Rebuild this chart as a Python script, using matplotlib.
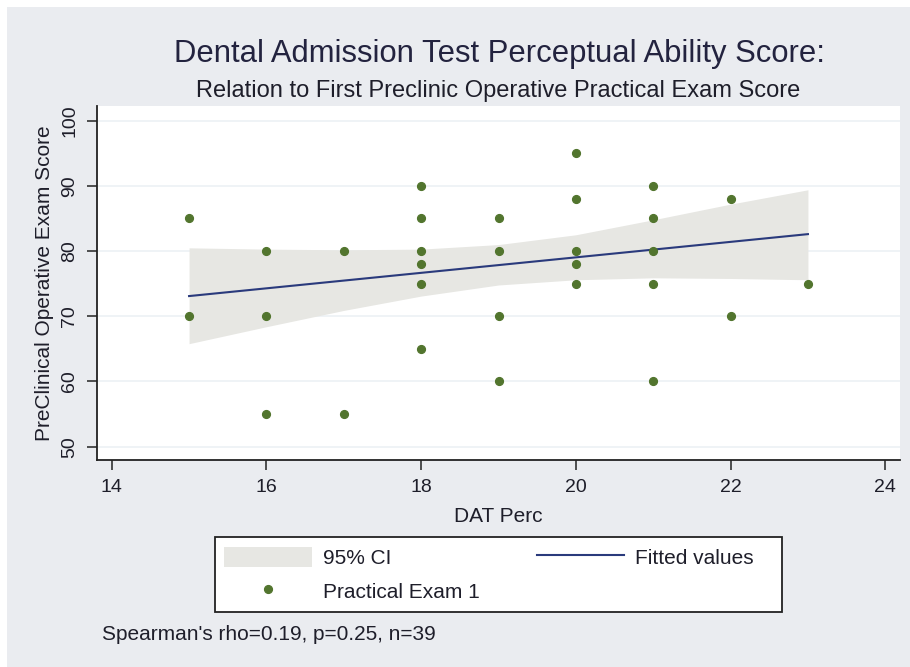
import matplotlib
matplotlib.use("Agg")
import matplotlib.pyplot as plt
from matplotlib.patches import Rectangle, Patch
from matplotlib.lines import Line2D

plt.rcParams['font.family'] = ['Liberation Sans', 'DejaVu Sans']

# ---- data ----
dat_perc = [15, 15, 16, 16, 16, 17, 17, 18, 18, 18, 18, 18, 18, 19, 19, 19, 19,
            20, 20, 20, 20, 20, 21, 21, 21, 21, 21, 22, 22, 23]
exam_score = [85, 70, 80, 70, 55, 80, 55, 90, 85, 80, 78, 75, 65, 85, 80, 70, 60,
              95, 88, 80, 78, 75, 90, 85, 80, 75, 60, 88, 70, 75]

fit_x = [15, 23]
fit_y = [73.1, 82.6]

ci_x = [15, 16, 17, 18, 19, 20, 21, 22, 23]
ci_low = [65.8, 68.4, 70.9, 73.1, 74.8, 75.6, 75.9, 75.8, 75.6]
ci_high = [80.5, 80.3, 80.2, 80.3, 81.0, 82.5, 84.8, 87.2, 89.4]

x_ticks = [14, 16, 18, 20, 22, 24]
y_ticks = [50, 60, 70, 80, 90, 100]

title = "Dental Admission Test Perceptual Ability Score:"
subtitle = "Relation to First Preclinic Operative Practical Exam Score"
xlabel = "DAT Perc"
ylabel = "PreClinical Operative Exam Score"
legend_labels = ["95% CI", "Practical Exam 1", "Fitted values"]
note = "Spearman's rho=0.19, p=0.25, n=39"

# ---- style ----
BG = "#EAECF0"
CI_COL = "#E7E7E3"
GREEN = "#52752E"
NAVY = "#2A3A7C"
GRID = "#ECF1F5"
TXT = "#1E1E2A"

W, H = 910, 667
fig = plt.figure(figsize=(W / 100, H / 100), dpi=100, facecolor="white")


def fx(px):
    return px / W


def fy(py):
    return 1 - py / H


fig.patches.append(Rectangle((fx(7), 0), 1 - fx(7), fy(7), transform=fig.transFigure,
                             facecolor=BG, edgecolor="none", zorder=-10))

ax = fig.add_axes([fx(97), fy(460), fx(900) - fx(97), fy(106) - fy(460)])
ax.set_facecolor("white")
ax.set_axisbelow(True)

ax.fill_between(ci_x, ci_low, ci_high, color=CI_COL, lw=0, zorder=1)
ax.plot(fit_x, fit_y, color=NAVY, lw=1.5, zorder=3)
ax.plot(dat_perc, exam_score, ls="none", marker="o", ms=5.6, color=GREEN,
        mec=GREEN, zorder=4)

ax.set_xlim(13.81, 24.19)
ax.set_ylim(47.96, 102.25)
ax.set_xticks(x_ticks)
ax.set_yticks(y_ticks)
ax.yaxis.grid(True, color=GRID, lw=1.2)

for s in ["top", "right"]:
    ax.spines[s].set_visible(False)
for s in ["left", "bottom"]:
    ax.spines[s].set_color("#222222")
    ax.spines[s].set_linewidth(1.3)

ax.tick_params(direction="out", length=7.5, width=1.1, color="#222222",
               labelsize=14, labelcolor=TXT, pad=6)
ax.tick_params(axis="y", labelrotation=90)
for lbl in ax.get_yticklabels():
    lbl.set_va("center")

ax.set_xlabel(xlabel, fontsize=15, color=TXT, labelpad=8)
ax.set_ylabel(ylabel, fontsize=15, color=TXT, labelpad=5)

fig.text(fx(499), fy(61.7), title, ha="center", va="baseline", fontsize=22.3, color="#23233F")
fig.text(fx(498), fy(96.7), subtitle, ha="center", va="baseline", fontsize=17, color=TXT)

handles = [Patch(facecolor=CI_COL, edgecolor="none"),
           Line2D([], [], ls="none", marker="o", ms=5.6, color=GREEN),
           Line2D([], [], color=NAVY, lw=1.5)]
fig.legend(handles, legend_labels, ncol=2, loc="upper left",
           bbox_to_anchor=(fx(224.3), fy(546.5)), bbox_transform=fig.transFigure,
           frameon=False, fontsize=15, labelcolor=TXT,
           handlelength=4.2, handleheight=1.13, handletextpad=0.53,
           columnspacing=2.74, labelspacing=0.6, borderpad=0, borderaxespad=0)
fig.patches.append(Rectangle((fx(215), fy(611.7)), fx(781.7) - fx(215), fy(536.7) - fy(611.7),
                             transform=fig.transFigure, facecolor="white",
                             edgecolor="#222222", lw=1.3, zorder=-5))

fig.text(fx(102), fy(634), note, ha="left", va="center", fontsize=15, color=TXT)

fig.savefig("out.png", dpi=100, facecolor="white")
